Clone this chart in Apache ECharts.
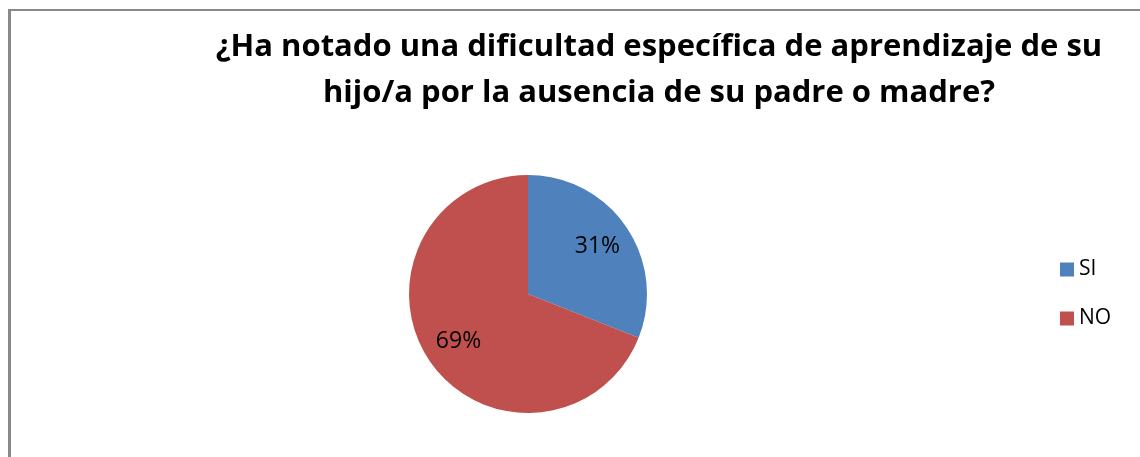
<!DOCTYPE html>
<html>
<head>
<meta charset="utf-8">
<script src="https://cdn.jsdelivr.net/npm/echarts@6/dist/echarts.min.js"></script>
<style>
  html, body { margin: 0; padding: 0; background: #fff; }
  #main { width: 1140px; height: 457px; }
</style>
</head>
<body>
<div id="main"></div>
<script>
// datos
var categorias = ['SI', 'NO'];
var valores = [31, 69];
var colores = ['#4F81BD', '#C0504D'];
var titulo = '¿Ha notado una dificultad específica de aprendizaje de su\nhijo/a por la ausencia de su padre o madre?';

var datos = categorias.map(function (c, i) {
  return { name: c, value: valores[i] };
});

var chartDom = document.getElementById('main');
var myChart = echarts.init(chartDom, null, { renderer: 'canvas' });

var option = {
  animation: false,
  color: colores,
  textStyle: { fontFamily: '"Open Sans", sans-serif' },
  title: {
    text: titulo,
    left: 659,
    top: 24,
    padding: 0,
    textAlign: 'center',
    textStyle: {
      fontFamily: '"Open Sans", sans-serif',
      fontWeight: 'bold',
      fontSize: 31,
      lineHeight: 46,
      color: '#000'
    }
  },
  legend: {
    orient: 'vertical',
    left: 1060,
    top: 259,
    padding: 0,
    itemWidth: 14,
    itemHeight: 14,
    itemGap: 28,
    icon: 'rect',
    data: categorias,
    textStyle: { fontSize: 21, lineHeight: 20, color: '#000', fontFamily: '"Open Sans", sans-serif' }
  },
  graphic: [
    // borde del área del gráfico
    { type: 'line', shape: { x1: 9.5, y1: 9, x2: 9.5, y2: 460 }, style: { stroke: '#898989', lineWidth: 3 } },
    { type: 'line', shape: { x1: 8, y1: 10, x2: 1145, y2: 10 }, style: { stroke: '#898989', lineWidth: 2 } }
  ],
  series: [
    {
      name: 'respuesta',
      type: 'pie',
      center: [528, 294],
      radius: 119,
      startAngle: 90,
      clockwise: true,
      silent: true,
      label: { show: false },
      labelLine: { show: false },
      itemStyle: { borderWidth: 0 },
      data: datos
    },
    {
      // solo para colocar las etiquetas a ~2/3 del radio
      name: 'etiquetas',
      type: 'pie',
      center: [528, 294],
      radius: 162,
      startAngle: 90,
      clockwise: true,
      silent: true,
      itemStyle: { color: 'rgba(0,0,0,0)' },
      label: {
        show: true,
        position: 'inside',
        formatter: '{d}%',
        fontSize: 23,
        color: '#000',
        fontFamily: '"Open Sans", sans-serif'
      },
      labelLine: { show: false },
      data: datos
    }
  ]
};
option && myChart.setOption(option);
</script>
</body>
</html>
